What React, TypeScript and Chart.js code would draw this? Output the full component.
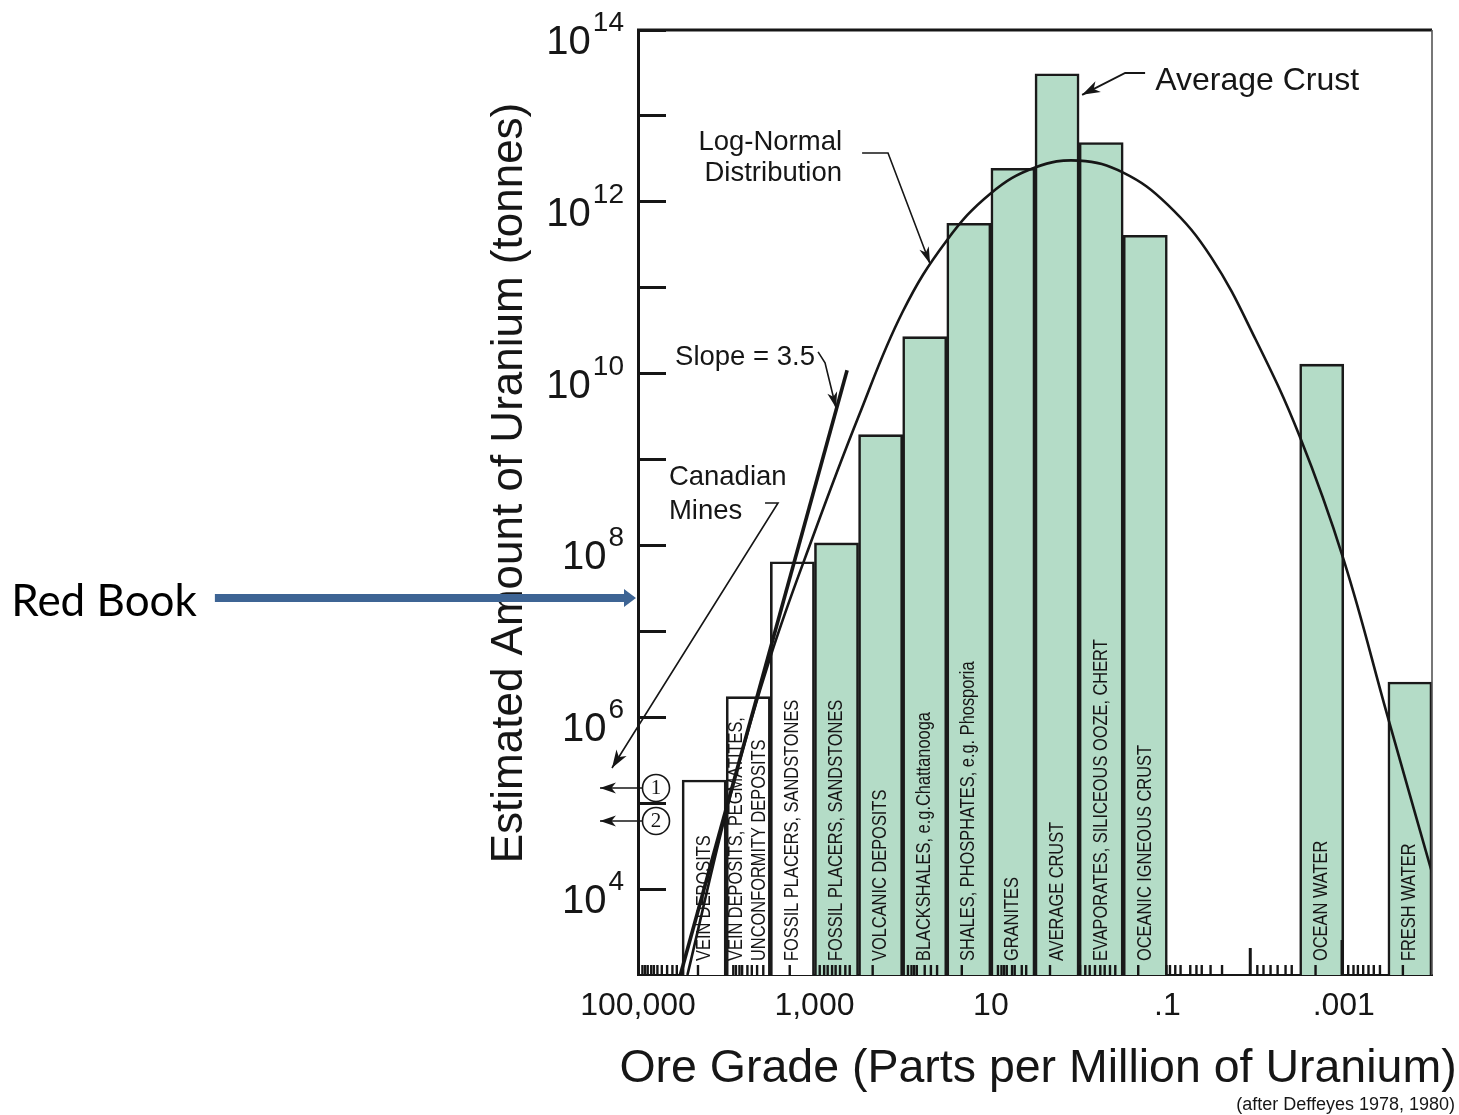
import { useEffect, useRef } from 'react';
import { Chart, registerables } from 'chart.js';

Chart.register(...registerables);

// ---------- data (x = log10 of ore grade in ppm, y = log10 of tonnes of uranium) ----------
const barGradeLog = [4.25, 3.75, 3.25, 2.75, 2.25, 1.75, 1.25, 0.75, 0.25, -0.25, -0.75, -2.75, -3.75];
const barTonnesLog = [5.27, 6.24, 7.81, 8.03, 9.29, 10.43, 11.75, 12.39, 13.49, 12.69, 11.61, 10.11, 6.41];
const barIsConventionalOre = [true, true, true, false, false, false, false, false, false, false, false, false, false];
const barLabels: string[][] = [
  ['VEIN DEPOSITS'],
  ['VEIN DEPOSITS, PEGMATITES,', 'UNCONFORMITY DEPOSITS'],
  ['FOSSIL PLACERS, SANDSTONES'],
  ['FOSSIL PLACERS, SANDSTONES'],
  ['VOLCANIC DEPOSITS'],
  ['BLACKSHALES, e.g.Chattanooga'],
  ['SHALES, PHOSPHATES, e.g. Phosporia'],
  ['GRANITES'],
  ['AVERAGE CRUST'],
  ['EVAPORATES, SILICEOUS OOZE, CHERT'],
  ['OCEANIC IGNEOUS CRUST'],
  ['OCEAN WATER'],
  ['FRESH WATER'],
];

const curveGradeLog = [4.44, 3.95, 3.5, 3.0, 2.5, 2.0, 1.5, 1.0, 0.5, 0.0, -0.5, -1.0, -1.5, -2.0, -2.5, -3.0, -3.5, -4.0];
const curveTonnesLog = [3.0, 5.1, 6.7, 8.15, 9.5, 10.72, 11.55, 12.1, 12.4, 12.48, 12.34, 11.97, 11.35, 10.4, 9.27, 7.83, 6.0, 4.19];

const slopeGradeLog = [4.52, 2.63];
const slopeTonnesLog = [3.0, 10.04];

const rugGradeLog = [4.95, 4.92, 4.89, 4.85, 4.82, 4.78, 4.73, 4.67, 4.61, 4.56, 4.32, 3.92, 3.89, 3.85, 3.82, 3.76, 3.71, 3.65, 3.58, 3.28, 2.94, 2.89, 2.85, 2.8, 2.76, 2.71, 2.65, 2.6, 2.34, 1.94, 1.9, 1.87, 1.84, 1.75, 1.68, 1.61, 1.33, 0.92, 0.88, 0.85, 0.82, 0.76, 0.73, 0.65, 0.6, 0.33, -0.01, -0.07, -0.12, -0.18, -0.24, -0.29, -0.35, -0.41, -0.67, -0.99, -1.03, -1.09, -1.15, -1.26, -1.33, -1.39, -1.49, -1.62, -2.02, -2.09, -2.17, -2.25, -2.34, -2.41, -2.68, -3.05, -3.11, -3.16, -3.22, -3.28, -3.34, -3.41, -3.67];
const rugTonnesLog = 3.058;
const tallRugGradeLog = [-1.94, -2.98];
const tallRugTonnesLog = [3.157, 3.204];
const tallRugLength = [13.5, 17.5];

const xTickValues = [5, 3, 1, -1, -3];
const xTickLabels = ['100,000', '1,000', '10', '.1', '.001'];
const yTickExponents = [4, 5, 6, 7, 8, 9, 10, 11, 12, 13, 14];
const yLabelExponents = [4, 6, 8, 10, 12, 14];

// annotation anchors, in data units [gradeLog, tonnesLog]
const notes = {
  avgCrustText: [-0.862, 13.3],
  avgCrustArrow: [[-0.748, 13.5], [-0.522, 13.5], [-0.034, 13.245]],
  logNormalText: [2.687, 12.6, 12.243],
  logNormalArrow: [[2.46, 12.569], [2.166, 12.569], [1.689, 11.277]],
  slopeText: [4.58, 10.1],
  slopeArrow: [[2.959, 10.253], [2.88, 10.125], [2.755, 9.6]],
  canadianText: [4.65, 8.704, 8.308],
  canadianArrow: [[3.56, 8.495], [3.413, 8.495], [5.295, 5.41]],
  circles: [[4.796, 5.177, '1'], [4.796, 4.793, '2']] as [number, number, string][],
  circleArrowTip: 5.431,
  redBookArrow: [9.796, 5.023, 7.389],
  redBookText: [10.0, 7.18],
};

const FONT = '"Liberation Sans", Arial, Helvetica, sans-serif';
const INK = '#161616';
const GREEN = '#b4dcc7';

type Pt = [number, number];

function arrowHead(ctx: CanvasRenderingContext2D, from: Pt, to: Pt, len: number, half: number) {
  const a = Math.atan2(to[1] - from[1], to[0] - from[0]);
  const c = Math.cos(a), s = Math.sin(a);
  ctx.beginPath();
  ctx.moveTo(to[0], to[1]);
  ctx.lineTo(to[0] - len * c + half * s, to[1] - len * s - half * c);
  ctx.lineTo(to[0] - len * 0.72 * c, to[1] - len * 0.72 * s);
  ctx.lineTo(to[0] - len * c - half * s, to[1] - len * s + half * c);
  ctx.closePath();
  ctx.fill();
}

function polyArrow(ctx: CanvasRenderingContext2D, pts: Pt[], lw: number, len: number, half: number) {
  ctx.lineWidth = lw;
  ctx.beginPath();
  ctx.moveTo(pts[0][0], pts[0][1]);
  for (let i = 1; i < pts.length; i++) ctx.lineTo(pts[i][0], pts[i][1]);
  ctx.stroke();
  arrowHead(ctx, pts[pts.length - 2], pts[pts.length - 1], len, half);
}

const decorPlugin = {
  id: 'decor',
  afterDatasetDraw(chart: any, args: any) {
    if (args.meta.type !== 'bar') return;
    const ctx: CanvasRenderingContext2D = chart.ctx;
    const xs = chart.scales.x;
    const area = chart.chartArea;
    ctx.save();
    ctx.fillStyle = INK;
    ctx.font = `20px ${FONT}`;
    ctx.textAlign = 'left';
    ctx.textBaseline = 'middle';
    barLabels.forEach((lines, i) => {
      const cx = xs.getPixelForValue(barGradeLog[i]);
      lines.forEach((line, j) => {
        const x = cx + (j - (lines.length - 1) / 2) * 23;
        ctx.save();
        ctx.translate(x, area.bottom - 14);
        ctx.rotate(-Math.PI / 2);
        ctx.scale(0.82, 1);
        ctx.fillText(line, 0, 0);
        ctx.restore();
      });
    });
    ctx.restore();
  },
  afterDraw(chart: any) {
    const ctx: CanvasRenderingContext2D = chart.ctx;
    const xs = chart.scales.x;
    const ys = chart.scales.y;
    const area = chart.chartArea;
    const P = (g: number, t: number): Pt => [xs.getPixelForValue(g), ys.getPixelForValue(Math.pow(10, t))];
    ctx.save();

    // frame: top and right edges
    ctx.strokeStyle = INK;
    ctx.lineWidth = 3;
    ctx.beginPath();
    ctx.moveTo(area.left - 1, area.top);
    ctx.lineTo(area.right, area.top);
    ctx.stroke();
    ctx.strokeStyle = '#555';
    ctx.lineWidth = 1.6;
    ctx.beginPath();
    ctx.moveTo(area.right, area.top);
    ctx.lineTo(area.right, area.bottom);
    ctx.stroke();

    // y tick labels 10^n
    ctx.fillStyle = INK;
    ctx.textAlign = 'right';
    ctx.textBaseline = 'alphabetic';
    yLabelExponents.forEach((e) => {
      const y = ys.getPixelForValue(Math.pow(10, e));
      const xr = area.left - 14;
      ctx.font = `28px ${FONT}`;
      const exp = String(e);
      const w = ctx.measureText(exp).width;
      ctx.fillText(exp, xr, y + 1);
      ctx.font = `40px ${FONT}`;
      ctx.fillText('10', xr - w - 2, y + 24);
    });

    // axis titles
    ctx.save();
    ctx.font = `44px ${FONT}`;
    ctx.textAlign = 'center';
    ctx.translate(area.left - 116, area.top + 453);
    ctx.rotate(-Math.PI / 2);
    ctx.fillText('Estimated Amount of Uranium (tonnes)', 0, 0);
    ctx.restore();

    ctx.font = `46.5px ${FONT}`;
    ctx.textAlign = 'center';
    ctx.fillText('Ore Grade (Parts per Million of Uranium)', (area.left + area.right) / 2 + 3, area.bottom + 107);
    ctx.font = `18px ${FONT}`;
    ctx.textAlign = 'right';
    ctx.fillText('(after Deffeyes 1978, 1980)', area.right + 23, area.bottom + 135);

    // annotations
    ctx.strokeStyle = INK;
    ctx.fillStyle = INK;
    ctx.textAlign = 'left';
    ctx.font = `32px ${FONT}`;
    let p = P(notes.avgCrustText[0], notes.avgCrustText[1]);
    ctx.fillText('Average Crust', p[0], p[1]);
    polyArrow(ctx, notes.avgCrustArrow.map(([g, t]) => P(g, t)), 2, 18, 6);

    ctx.font = `27.5px ${FONT}`;
    ctx.textAlign = 'right';
    p = P(notes.logNormalText[0], notes.logNormalText[1]);
    ctx.fillText('Log-Normal', p[0], p[1]);
    p = P(notes.logNormalText[0], notes.logNormalText[2]);
    ctx.fillText('Distribution', p[0], p[1]);
    polyArrow(ctx, notes.logNormalArrow.map(([g, t]) => P(g, t)), 1.6, 17, 5);

    ctx.textAlign = 'left';
    p = P(notes.slopeText[0], notes.slopeText[1]);
    ctx.fillText('Slope = 3.5', p[0], p[1]);
    polyArrow(ctx, notes.slopeArrow.map(([g, t]) => P(g, t)), 1.6, 16, 5);

    p = P(notes.canadianText[0], notes.canadianText[1]);
    ctx.fillText('Canadian', p[0], p[1]);
    p = P(notes.canadianText[0], notes.canadianText[2]);
    ctx.fillText('Mines', p[0], p[1]);
    polyArrow(ctx, notes.canadianArrow.map(([g, t]) => P(g, t)), 1.6, 18, 6);

    // circled markers 1 and 2
    notes.circles.forEach(([g, t, label]) => {
      const c = P(g, t);
      ctx.lineWidth = 1.6;
      ctx.beginPath();
      ctx.arc(c[0], c[1], 13.5, 0, Math.PI * 2);
      ctx.fillStyle = '#fff';
      ctx.fill();
      ctx.stroke();
      ctx.fillStyle = INK;
      ctx.font = `21px "Liberation Serif", "Times New Roman", serif`;
      ctx.textAlign = 'center';
      ctx.textBaseline = 'middle';
      ctx.fillText(label, c[0], c[1] + 1);
      ctx.textBaseline = 'alphabetic';
      const tip = P(notes.circleArrowTip, t);
      polyArrow(ctx, [[c[0] - 13.5, c[1]], tip], 1.6, 16, 5.5);
    });

    // Red Book arrow
    const rb0 = P(notes.redBookArrow[0], notes.redBookArrow[2]);
    const rb1 = P(notes.redBookArrow[1], notes.redBookArrow[2]);
    ctx.strokeStyle = '#3d6494';
    ctx.fillStyle = '#3d6494';
    ctx.lineWidth = 8;
    ctx.beginPath();
    ctx.moveTo(rb0[0], rb0[1]);
    ctx.lineTo(rb1[0] - 10, rb1[1]);
    ctx.stroke();
    ctx.beginPath();
    ctx.moveTo(rb1[0], rb1[1]);
    ctx.lineTo(rb1[0] - 12, rb1[1] - 9);
    ctx.lineTo(rb1[0] - 12, rb1[1] + 9);
    ctx.closePath();
    ctx.fill();
    ctx.fillStyle = '#000';
    ctx.font = `44px Lato, "Open Sans", ${FONT}`;
    ctx.textAlign = 'right';
    p = P(notes.redBookText[0], notes.redBookText[1]);
    ctx.fillText('Red Book', p[0], p[1]);

    ctx.restore();
  },
};

export default function App() {
  const ref = useRef<HTMLCanvasElement>(null);
  useEffect(() => {
    const canvas = ref.current;
    if (!canvas) return;
    const chart = new Chart(canvas, {
      type: 'bar',
      data: {
        datasets: [
          {
            type: 'line',
            label: 'Log-Normal Distribution',
            data: curveGradeLog.map((g, i) => ({ x: g, y: Math.pow(10, curveTonnesLog[i]) })),
            borderColor: INK,
            borderWidth: 2.6,
            pointRadius: 0,
            tension: 0.4,
            fill: false,
            order: 0,
          },
          {
            type: 'line',
            label: 'Slope = 3.5',
            data: slopeGradeLog.map((g, i) => ({ x: g, y: Math.pow(10, slopeTonnesLog[i]) })),
            borderColor: INK,
            borderWidth: 3.6,
            pointRadius: 0,
            fill: false,
            order: 0,
          },
          {
            type: 'line',
            label: 'Deposits',
            data: rugGradeLog.map((g) => ({ x: g, y: Math.pow(10, rugTonnesLog) })),
            showLine: false,
            pointStyle: 'line',
            pointRotation: 90,
            pointRadius: 5,
            pointBorderWidth: 2.4,
            pointBorderColor: INK,
            clip: false,
            order: 1,
          },
          {
            type: 'line',
            label: 'Deposits (tall)',
            data: tallRugGradeLog.map((g, i) => ({ x: g, y: Math.pow(10, tallRugTonnesLog[i]) })),
            showLine: false,
            pointStyle: 'line',
            pointRotation: 90,
            pointRadius: tallRugLength,
            pointBorderWidth: 3,
            pointBorderColor: INK,
            clip: false,
            order: 1,
          },
          {
            type: 'bar',
            label: 'Estimated Amount of Uranium',
            data: barGradeLog.map((g, i) => ({ x: g, y: Math.pow(10, barTonnesLog[i]) })),
            backgroundColor: barIsConventionalOre.map((c) => (c ? '#ffffff' : GREEN)),
            borderColor: '#1a1a1a',
            borderWidth: 2.6,
            barPercentage: 1,
            categoryPercentage: 1,
            order: 2,
          },
        ],
      } as any,
      options: {
        responsive: false,
        animation: false,
        devicePixelRatio: 1,
        events: [],
        layout: { padding: { top: 30, right: 27, left: 0, bottom: 0 } },
        plugins: { legend: { display: false }, tooltip: { enabled: false } },
        scales: {
          x: {
            type: 'linear',
            reverse: true,
            min: -4,
            max: 5,
            offset: false,
            grid: { display: false, offset: false },
            border: { display: true, color: INK, width: 2 },
            afterBuildTicks: (s: any) => {
              s.ticks = xTickValues.map((v) => ({ value: v }));
            },
            afterFit: (s: any) => {
              s.height = 140;
            },
            ticks: {
              font: { family: FONT, size: 32 },
              color: INK,
              padding: 4,
              maxRotation: 0,
              autoSkip: false,
              callback: (_v: any, i: number) => xTickLabels[i],
            },
          },
          y: {
            type: 'logarithmic',
            min: 1e3,
            max: 1e14,
            grid: { display: true, drawOnChartArea: false, drawTicks: true, tickLength: -28, tickWidth: 3, tickColor: INK },
            border: { display: true, color: INK, width: 3 },
            afterBuildTicks: (s: any) => {
              s.ticks = yTickExponents.map((e) => ({ value: Math.pow(10, e) }));
            },
            afterFit: (s: any) => {
              s.width = 638;
            },
            ticks: { display: false },
          },
        },
      } as any,
      plugins: [decorPlugin],
    });
    return () => chart.destroy();
  }, []);

  return (
    <div style={{ position: 'absolute', left: 0, top: 0, width: 1459, height: 1115, background: '#fff' }}>
      <canvas ref={ref} width={1459} height={1115} style={{ display: 'block', width: 1459, height: 1115 }} />
    </div>
  );
}
